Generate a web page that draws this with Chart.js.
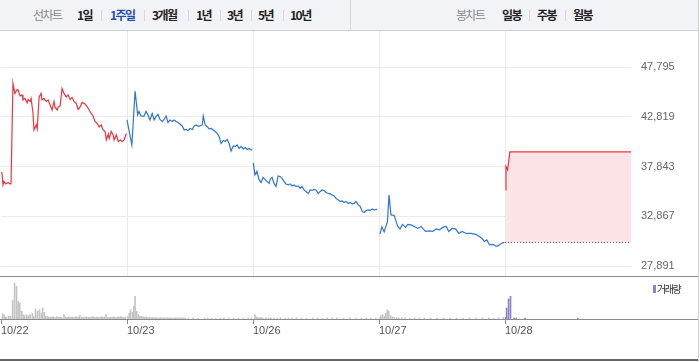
<!DOCTYPE html>
<html lang="ko">
<head>
<meta charset="utf-8">
<script src="https://cdn.jsdelivr.net/npm/chart.js@4.4.1/dist/chart.umd.min.js"></script>
<style>
  body { margin: 0; width: 700px; height: 362px; overflow: hidden; background: #fff; position: relative; font-family: 'Noto Sans CJK KR', sans-serif; }
  .topbar { position: absolute; left: 0; top: 0; width: 698px; height: 30px; background: #f2f3f7; border-bottom: 1px solid #cdd1d8; }
  .topbar span { position: absolute; top: 7px; font-size: 12px; line-height: 16px; letter-spacing: -1.5px; white-space: nowrap; font-weight: bold; color: #222; }
  .topbar span.lbl { color: #888; font-weight: normal; }
  .topbar span.on { color: #1f4db6; }
  .topbar i { position: absolute; top: 10px; width: 1px; height: 11px; background: #d5d8de; }
  .topbar b { position: absolute; top: 0; left: 350px; width: 1px; height: 30px; background: #d5d8de; }
  .line { position: absolute; left: 0; width: 698px; }
  #priceWrap { position: absolute; left: 0; top: 31px; width: 700px; height: 245px; }
  #volWrap { position: absolute; left: 0; top: 277px; width: 700px; height: 85px; }
  .legend { position: absolute; left: 657px; top: 282px; font-size: 10px; line-height: 14px; letter-spacing: -1.5px; color: #333; }
  .legend-box { position: absolute; left: 653px; top: 285px; width: 3px; height: 8px; background: #8f80c8; }
</style>
</head>
<body>
<div class="topbar">
  <span class="lbl" style="left:33px">선차트</span>
  <span style="left:77px">1일</span><i style="left:101px"></i>
  <span class="on" style="left:110px">1주일</span><i style="left:144px"></i>
  <span style="left:152px">3개월</span><i style="left:188px"></i>
  <span style="left:196px">1년</span><i style="left:220px"></i>
  <span style="left:227px">3년</span><i style="left:251px"></i>
  <span style="left:258px">5년</span><i style="left:283px"></i>
  <span style="left:290px">10년</span>
  <b></b>
  <span class="lbl" style="left:456px">봉차트</span>
  <span style="left:502px">일봉</span><i style="left:529px"></i>
  <span style="left:537px">주봉</span><i style="left:565px"></i>
  <span style="left:573px">월봉</span>
</div>
<div id="priceWrap"><canvas id="price-chart" width="700" height="245"></canvas></div>
<div class="line" style="top:276px;height:1px;background:#8c8c8c"></div>
<div id="volWrap"><canvas id="volume-chart" width="700" height="85"></canvas></div>
<div class="line" style="top:319px;height:1px;background:#8c8c8c"></div>
<div class="line" style="top:359px;height:2px;background:#666"></div>
<div style="position:absolute;left:698px;top:0;width:1px;height:362px;background:#cdd1d8"></div>
<div class="legend-box"></div>
<div class="legend">거래량</div>

<script>
// dates on the x axis, each trading day is 390 minutes
const dates = ['10/22', '10/23', '10/26', '10/27', '10/28'];
const dayMinutes = 390;
const yTicks = [27891, 32867, 37843, 42819, 47795];
const prevClose = 30250;

// [minute of day, price]
const price1022 = [[0,37250],[3,37200],[6,36000],[9,36350],[15,36100],[22,36250],[28,36100],[31,36100],[37,46150],[43,45150],[50,45550],[53,45500],[59,44900],[65,45000],[68,44500],[74,44650],[81,44200],[84,44550],[90,44350],[93,44650],[99,43200],[102,41500],[109,42000],[112,41600],[118,44800],[124,45150],[127,44500],[133,44650],[140,44350],[146,44500],[152,44000],[158,43500],[164,44350],[167,43800],[174,43500],[177,43800],[183,43900],[189,45650],[195,45150],[202,44800],[208,45000],[214,44550],[220,44750],[226,44350],[233,44150],[239,43550],[245,43800],[251,44250],[260,44100],[267,43800],[273,43500],[279,43150],[285,42900],[291,42350],[298,42150],[304,41800],[310,42000],[316,41500],[322,41350],[326,40500],[332,41100],[335,40650],[341,41350],[347,41000],[350,40500],[357,41000],[363,40350],[369,40500],[375,40350],[381,40500],[388,41150]];
const price1023 = [[0,42500],[15,40000],[25,45400],[33,43000],[37,43350],[43,42900],[52,42850],[59,43350],[65,43000],[71,42500],[78,43150],[84,42500],[90,42850],[96,43050],[102,42550],[109,42350],[115,42550],[121,42900],[127,42250],[133,42500],[140,42350],[146,42500],[152,42350],[158,42250],[164,42100],[171,41900],[177,41500],[183,41550],[189,41450],[195,41650],[202,41550],[208,41900],[214,42000],[220,41850],[226,41900],[233,42000],[236,42900],[242,42000],[248,41850],[254,41600],[260,41650],[267,41500],[273,41350],[279,41150],[285,40850],[291,40150],[298,40450],[304,40350],[310,40550],[316,40150],[322,39400],[329,39900],[335,39850],[341,40000],[347,39650],[353,39850],[360,39600],[366,39750],[372,39550],[378,39650],[384,39500],[388,39500]];
const price1026 = [[1,38200],[6,37000],[12,37350],[19,36500],[25,36250],[31,36750],[37,36550],[43,36350],[50,36150],[53,36550],[59,36750],[65,36150],[71,35850],[78,36900],[84,36850],[90,36650],[96,36350],[102,36100],[109,36000],[115,36100],[121,35900],[127,36000],[133,35850],[140,35900],[146,35650],[152,35850],[158,35500],[164,35350],[171,35150],[177,35500],[183,35450],[189,35550],[195,35500],[202,35150],[208,35350],[214,35500],[220,35450],[226,35250],[233,35150],[239,35100],[245,35000],[251,34900],[257,34650],[264,34500],[270,34350],[276,34400],[282,34250],[288,34350],[295,34150],[301,34250],[307,34100],[313,34150],[319,34350],[326,34000],[332,33850],[338,33350],[344,33250],[350,33450],[357,33500],[363,33450],[369,33600],[375,33500],[384,33550]];
const price1027 = [[3,31100],[9,31800],[16,31300],[22,31900],[26,32300],[31,35000],[37,33000],[47,32950],[58,31850],[65,31600],[73,32050],[82,31750],[89,32050],[99,32000],[109,31850],[120,31650],[130,31850],[144,31350],[156,31400],[166,31350],[177,31600],[187,31500],[197,31750],[208,31850],[216,31350],[226,31650],[237,31600],[247,31150],[257,31350],[270,31150],[285,31150],[299,31050],[311,30850],[319,30650],[326,30350],[334,30500],[342,30000],[353,30050],[363,29850],[371,29950],[378,30150],[388,30250]];
const price1028 = [[2,35500],[3,37850],[8,37500],[15,39300],[390,39300]];

// [minute of day, volume]
const vol1022 = [[5,53000],[10,43000],[14,20000],[18,12000],[24,27000],[30,27000],[36,187000],[42,360000],[48,327000],[53,177000],[58,160000],[64,77000],[69,43000],[73,33000],[79,43000],[84,33000],[90,43000],[97,53000],[101,27000],[107,100000],[113,77000],[119,93000],[125,60000],[129,110000],[134,67000],[138,27000],[143,25000],[148,20000],[153,18000],[158,22000],[163,20000],[168,15000],[173,25000],[178,18000],[183,20000],[188,15000],[195,43000],[200,20000],[205,15000],[210,22000],[215,18000],[220,20000],[225,15000],[230,25000],[235,18000],[240,20000],[244,33000],[250,18000],[255,15000],[260,20000],[265,22000],[270,15000],[275,18000],[280,20000],[285,25000],[290,15000],[295,18000],[300,20000],[305,15000],[310,22000],[315,18000],[320,20000],[325,43000],[330,18000],[335,15000],[340,20000],[345,18000],[350,22000],[355,15000],[360,20000],[365,18000],[370,25000],[375,20000],[380,15000],[385,22000]];
const vol1023 = [[3,25000],[7,60000],[11,93000],[17,67000],[21,127000],[25,227000],[30,77000],[35,43000],[40,30000],[45,25000],[50,22000],[55,18000],[60,20000],[65,15000],[70,18000],[75,12000],[80,15000],[85,12000],[90,15000],[95,10000],[100,12000],[105,15000],[110,10000],[115,12000],[120,10000],[125,12000],[130,10000],[135,12000],[140,8000],[145,10000],[150,12000],[155,8000],[160,10000],[165,12000],[170,8000],[175,10000],[180,8000],[190,8000],[205,10000],[220,6000],[240,8000],[250,10000],[262,8000],[275,6000],[290,8000],[300,10000],[315,8000],[330,10000],[345,8000],[360,6000],[375,8000],[385,10000]];
const vol1026 = [[6,43000],[10,20000],[15,15000],[20,12000],[25,15000],[30,10000],[40,12000],[48,10000],[55,12000],[65,10000],[75,8000],[85,10000],[100,8000],[110,10000],[120,8000],[135,10000],[150,8000],[165,6000],[185,8000],[200,10000],[215,6000],[230,8000],[245,10000],[260,8000],[280,6000],[300,8000],[320,6000],[335,8000],[350,10000],[365,8000],[380,10000]];
const vol1027 = [[3,15000],[6,33000],[11,43000],[17,27000],[21,60000],[26,93000],[30,77000],[36,33000],[42,20000],[48,15000],[55,12000],[62,10000],[70,12000],[80,10000],[95,8000],[110,10000],[125,8000],[140,10000],[160,8000],[180,6000],[200,8000],[220,6000],[240,8000],[260,6000],[280,8000],[300,6000],[320,8000],[340,10000],[355,8000],[370,12000],[385,15000]];
const vol1028 = [[2,15000],[5,110000],[11,200000],[17,227000],[28,10000],[35,10000],[62,8000],[225,8000]];

const RED = '#f0333d';
const BLUE = '#2f74d9';

function toXY(pairs, day) {
    return pairs.map(p => ({ x: day * dayMinutes + p[0], y: p[1] }));
}

// stop the axes from shrinking the plot area for their labels
function noPad(s) {
    s.paddingTop = 0;
    s.paddingBottom = 0;
    s.paddingLeft = 0;
    s.paddingRight = 0;
}

Chart.defaults.font.family = "'Liberation Sans', Arial, sans-serif";
Chart.defaults.animation = false;

window.onload = function () {
    const priceDays = [price1022, price1023, price1026, price1027, price1028];
    const lineSets = priceDays.map((arr, d) => ({
        data: toXY(arr, d),
        borderColor: (d === 0 || d === 4) ? RED : BLUE,
        backgroundColor: '#fde5e7',
        borderWidth: 1.2,
        pointRadius: 0,
        tension: 0,
        fill: d === 4 ? { value: prevClose } : false
    }));
    // previous close, dotted
    lineSets.push({
        data: [{ x: 4 * dayMinutes, y: prevClose }, { x: 5 * dayMinutes, y: prevClose }],
        borderColor: '#555',
        borderDash: [1, 2],
        borderWidth: 1,
        pointRadius: 0,
        fill: false,
        order: -1
    });

    new Chart(document.getElementById('price-chart').getContext('2d'), {
        type: 'line',
        data: { datasets: lineSets },
        options: {
            responsive: false,
            layout: { padding: { left: 1, right: 0, top: 0, bottom: 0 } },
            plugins: { legend: { display: false }, tooltip: { enabled: false } },
            scales: {
                x: {
                    type: 'linear',
                    min: 0,
                    max: dates.length * dayMinutes,
                    afterBuildTicks: s => { s.ticks = [1, 2, 3, 4].map(i => ({ value: i * dayMinutes })); },
                    afterFit: s => { s.height = 0; noPad(s); },
                    ticks: { display: false },
                    grid: { color: '#ebebeb', drawTicks: false },
                    border: { display: false }
                },
                y: {
                    position: 'right',
                    min: 26891,
                    max: 51396,
                    afterBuildTicks: s => { s.ticks = yTicks.map(v => ({ value: v })); },
                    afterFit: s => { s.width = 69; noPad(s); },
                    ticks: {
                        padding: 10,
                        color: '#666',
                        font: { size: 11 },
                        callback: v => v.toLocaleString('en-US')
                    },
                    grid: { color: '#ebebeb', drawTicks: false },
                    border: { display: false }
                }
            }
        }
    });

    const pastVol = [vol1022, vol1023, vol1026, vol1027].flatMap((arr, d) => toXY(arr, d));
    new Chart(document.getElementById('volume-chart').getContext('2d'), {
        type: 'bar',
        data: {
            datasets: [
                { label: '거래량', data: toXY(vol1028, 4), backgroundColor: '#8f80c8', barThickness: 1 },
                { label: '거래량', data: pastVol, backgroundColor: '#c4c4c4', barThickness: 1 }
            ]
        },
        options: {
            responsive: false,
            layout: { padding: { left: 1, right: 69, top: 0, bottom: 0 } },
            datasets: { bar: { grouped: false } },
            plugins: { legend: { display: false }, tooltip: { enabled: false } },
            scales: {
                x: {
                    type: 'linear',
                    offset: false,
                    min: 0,
                    max: dates.length * dayMinutes,
                    afterBuildTicks: s => { s.ticks = dates.map((d, i) => ({ value: i * dayMinutes })); },
                    afterFit: s => { s.height = 43; noPad(s); },
                    ticks: {
                        align: 'start',
                        padding: 0,
                        color: '#555',
                        font: { size: 11 },
                        autoSkip: false,
                        maxRotation: 0,
                        callback: v => dates[Math.round(v / dayMinutes)]
                    },
                    grid: { offset: false, drawOnChartArea: false, drawTicks: true, tickLength: 5, color: '#888' },
                    border: { display: true, color: '#8c8c8c' }
                },
                y: { display: false, min: 0, max: 420000, afterFit: noPad }
            }
        }
    });
};
</script>
</body>
</html>
